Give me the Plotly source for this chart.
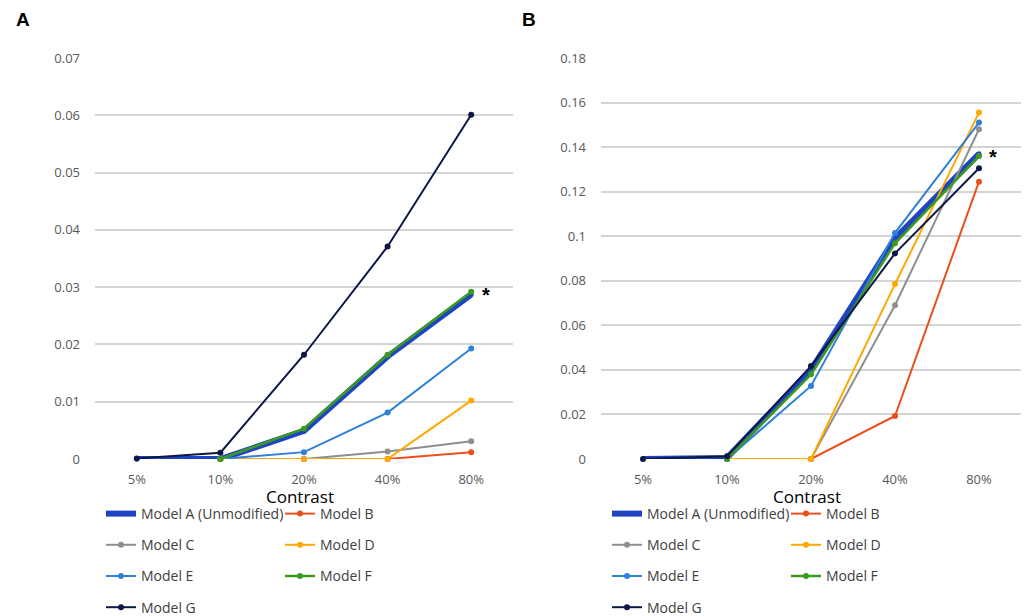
import plotly.graph_objects as go

categories = ["5%", "10%", "20%", "40%", "80%"]
models = ["Model A (Unmodified)", "Model B", "Model C", "Model D", "Model E", "Model F", "Model G"]

# Panel A values
a_model_a = [0, 0, 0.0049, 0.0179, 0.0287]
a_model_b = [None, 0, 0, 0, 0.0012]
a_model_c = [None, 0, 0, 0.0013, 0.0031]
a_model_d = [None, 0, 0, 0, 0.0102]
a_model_e = [None, 0, 0.0012, 0.0081, 0.0193]
a_model_f = [None, 0, 0.0053, 0.0182, 0.0292]
a_model_g = [0.0001, 0.0011, 0.0182, 0.0371, 0.0601]

# Panel B values
b_model_a = [0, 0.0005, 0.040, 0.099, 0.137]
b_model_b = [None, 0, 0, 0.0193, 0.1245]
b_model_c = [None, 0, 0, 0.069, 0.148]
b_model_d = [None, 0, 0, 0.0785, 0.1555]
b_model_e = [None, 0, 0.0328, 0.1015, 0.151]
b_model_f = [None, 0, 0.038, 0.0968, 0.136]
b_model_g = [0, 0.0012, 0.0417, 0.0923, 0.1305]

y_ticks_a = [0, 0.01, 0.02, 0.03, 0.04, 0.05, 0.06, 0.07]
y_ticks_b = [0, 0.02, 0.04, 0.06, 0.08, 0.1, 0.12, 0.14, 0.16, 0.18]

colors = ["#1f44c2", "#e8501a", "#8f8f8f", "#ffa800", "#2f80d8", "#3c9a1f", "#0c1747"]
widths = [6, 2, 2, 2, 2, 2.5, 2]

panel_a = [a_model_a, a_model_b, a_model_c, a_model_d, a_model_e, a_model_f, a_model_g]
panel_b = [b_model_a, b_model_b, b_model_c, b_model_d, b_model_e, b_model_f, b_model_g]

fig = go.Figure()
for p, (data, xa, ya, legs) in enumerate([(panel_a, "x", "y", ("legend", "legend2")),
                                          (panel_b, "x2", "y2", ("legend3", "legend4"))]):
    for i, name in enumerate(models):
        fig.add_trace(go.Scatter(
            x=categories, y=data[i], name=name, mode="lines+markers",
            line=dict(color=colors[i], width=widths[i]),
            marker=dict(color=colors[i], size=6 if i != 0 else 5),
            xaxis=xa, yaxis=ya, cliponaxis=False,
            legend=legs[0] if i % 2 == 0 else legs[1],
            legendgroup=f"{p}-{i}",
            connectgaps=False,
        ))

FONT = "Open Sans, Liberation Sans, sans-serif"
axis_font = dict(family=FONT, size=13, color="#595959")
common_x = dict(type="category", categoryorder="array", categoryarray=categories,
                showgrid=False, showline=False, zeroline=False, ticks="",
                tickfont=axis_font, range=[-0.5, 4.5], automargin=False,
                ticklabelstandoff=11)
common_y = dict(showgrid=True, gridcolor="#d4d4d4", gridwidth=1.5, zeroline=False,
                showline=False, ticks="", tickfont=axis_font, automargin=False,
                ticklabelstandoff=14)

fig.update_layout(
    width=1024, height=616,
    margin=dict(l=0, r=0, t=0, b=0, autoexpand=False),
    paper_bgcolor="white", plot_bgcolor="white",
    showlegend=True,
    xaxis=dict(domain=[95 / 1024, 513 / 1024], anchor="y", **common_x),
    yaxis=dict(domain=[(616 - 459) / 616, (616 - 58) / 616], anchor="x", range=[0, 0.07],
               tickvals=y_ticks_a, ticktext=["0", "0.01", "0.02", "0.03", "0.04", "0.05", "0.06", "0.07"],
               **common_y),
    xaxis2=dict(domain=[601 / 1024, 1021 / 1024], anchor="y2", **common_x),
    yaxis2=dict(domain=[(616 - 459) / 616, (616 - 58) / 616], anchor="x2", range=[0, 0.18],
                tickvals=y_ticks_b, ticktext=["0", "0.02", "0.04", "0.06", "0.08", "0.1", "0.12", "0.14", "0.16", "0.18"],
                **common_y),
)

leg_common = dict(orientation="v", yanchor="top", tracegroupgap=10, itemwidth=30,
                  bgcolor="rgba(0,0,0,0)", borderwidth=0,
                  font=dict(family=FONT, size=14, color="#404040"))
fig.update_layout(
    legend=dict(x=101 / 1024, xanchor="left", y=1 - 498 / 616, **leg_common),
    legend2=dict(x=280 / 1024, xanchor="left", y=1 - 498 / 616, **leg_common),
    legend3=dict(x=607 / 1024, xanchor="left", y=1 - 498 / 616, **leg_common),
    legend4=dict(x=786 / 1024, xanchor="left", y=1 - 498 / 616, **leg_common),
)

annotations = [
    dict(text="<b>A</b>", x=14 / 1024, y=1 - 20 / 616, xref="paper", yref="paper",
         xanchor="left", yanchor="middle", showarrow=False,
         font=dict(family="Liberation Sans, Arial, sans-serif", size=19, color="#000")),
    dict(text="<b>B</b>", x=520 / 1024, y=1 - 20 / 616, xref="paper", yref="paper",
         xanchor="left", yanchor="middle", showarrow=False,
         font=dict(family="Liberation Sans, Arial, sans-serif", size=19, color="#000")),
    dict(text="Contrast", x=0.49, y=1 - 497 / 616, xref="x domain", yref="paper",
         xanchor="center", yanchor="middle", showarrow=False,
         font=dict(family=FONT, size=17, color="#000")),
    dict(text="Contrast", x=0.49, y=1 - 497 / 616, xref="x2 domain", yref="paper",
         xanchor="center", yanchor="middle", showarrow=False,
         font=dict(family=FONT, size=17, color="#000")),
    dict(text="<b>*</b>", x="80%", y=a_model_f[-1], xref="x", yref="y", xshift=15, yshift=-3,
         showarrow=False, font=dict(family="Liberation Sans, Arial, sans-serif", size=20, color="#000")),
    dict(text="<b>*</b>", x="80%", y=b_model_a[-1], xref="x2", yref="y2", xshift=14, yshift=-3,
         showarrow=False, font=dict(family="Liberation Sans, Arial, sans-serif", size=20, color="#000")),
]
fig.update_layout(annotations=annotations)

fig.write_html("out.html")
